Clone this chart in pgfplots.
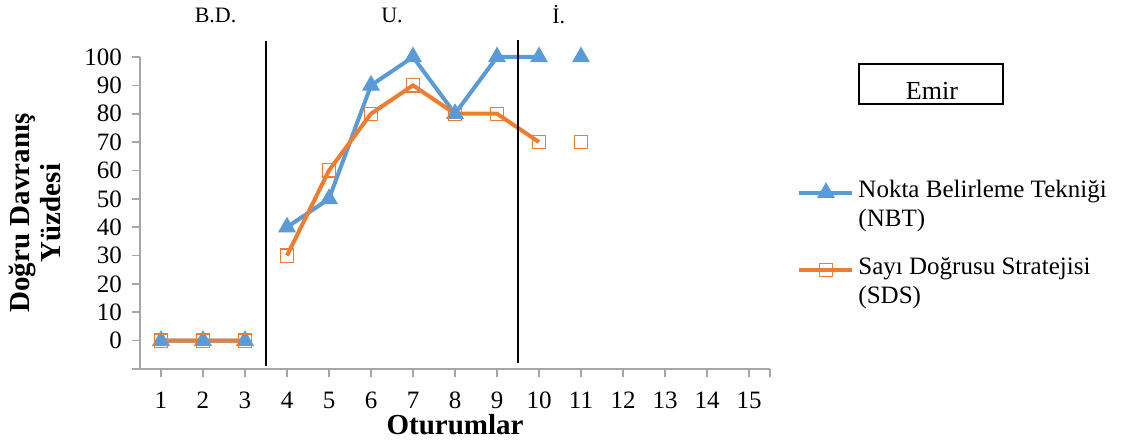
\documentclass[border=0pt]{standalone}
\usepackage{fontspec}
\setmainfont{Liberation Serif}
\usepackage{pgfplots}
\pgfplotsset{compat=1.18}
\definecolor{cblue}{HTML}{5B9BD5}
\definecolor{corange}{HTML}{ED7D31}
\definecolor{axgray}{HTML}{A6A6A6}
\begin{document}
\begin{tikzpicture}
\useasboundingbox (-70pt,-37.5pt) rectangle (493.5pt,184.5pt);
\begin{axis}[
  scale only axis, width=315pt, height=156pt,
  xmin=0.5, xmax=15.5, ymin=-10, ymax=100,
  axis x line=bottom, axis y line=left,
  axis line style={-, axgray, line width=0.8pt},
  xtick={1,...,15}, ytick={-10,0,10,...,100},
  yticklabels={{},0,10,20,30,40,50,60,70,80,90,100},
  extra x ticks={15.5}, extra x tick labels={},
  tick style={axgray, line width=0.8pt},
  tick align=outside, major tick length=4pt,
  /pgf/number format/assume math mode=true,
  tick label style={font=\fontsize{12.5}{15}\selectfont},
  xticklabel style={font=\fontsize{12.5}{15}\selectfont, anchor=center, yshift=-11.75pt},
  yticklabel style={font=\fontsize{12.5}{15}\selectfont, anchor=east, xshift=-1.5pt},
  xlabel={Oturumlar},
  xlabel style={at={(axis description cs:0.5,-0.1795)}, anchor=center, font=\bfseries\fontsize{14.5}{16}\selectfont},
  ylabel={Doğru Davranış\\Yüzdesi},
  ylabel style={at={(axis description cs:-0.1667,0.5)}, anchor=center, align=center, font=\bfseries\fontsize{14.5}{15.5}\selectfont},
  clip=false,
  unbounded coords=jump,
  legend style={at={(axis description cs:1.043,0.62)}, anchor=north west, draw=none, fill=none,
    font=\fontsize{12.5}{14.5}\selectfont, cells={align=left, anchor=west}, row sep=10pt, inner sep=0pt,
    /tikz/every even column/.style={column sep=2pt}},
  legend image code/.code={\draw[mark repeat=2, mark phase=2] plot coordinates {(0pt,6pt)(13.25pt,6pt)(26.5pt,6pt)};},
]
\addplot[cblue, line width=2pt, mark=triangle*, mark size=4.7pt, mark options={solid, fill=cblue, draw=cblue, line width=0.5pt}]
  coordinates {(1,0)(2,0)(3,0)(3.5,nan)(4,40)(5,50)(6,90)(7,100)(8,80)(9,100)(10,100)(10.5,nan)(11,100)};
\addlegendentry{Nokta Belirleme Tekniği\\(NBT)}
\addplot[corange, line width=2pt, mark=square, mark size=3.3pt, mark options={solid, draw=corange, fill=none, line width=0.6pt}]
  coordinates {(1,0)(2,0)(3,0)(3.5,nan)(4,30)(5,60)(6,80)(7,90)(8,80)(9,80)(10,70)(10.5,nan)(11,70)};
\addlegendentry{Sayı Doğrusu Stratejisi\\(SDS)}
\addplot[black, line width=0.7pt, forget plot] coordinates {(3.5,105.5)(3.5,-9)};
\addplot[black, line width=0.7pt, forget plot] coordinates {(9.5,106)(9.5,-7.9)};
\node[font=\fontsize{11}{12}\selectfont] at (axis cs:2.3,114.8) {B.D.};
\node[font=\fontsize{11}{12}\selectfont] at (axis cs:6.5,114.8) {U.};
\node[font=\fontsize{11}{12}\selectfont] at (axis cs:10.47,114.8) {İ.};
\node[draw, line width=1pt, minimum width=72pt, minimum height=20pt, inner sep=0pt] at (rel axis cs:1.2556,0.9135) {};
\node[font=\fontsize{13}{14}\selectfont] at (rel axis cs:1.2571,0.891) {Emir};
\end{axis}
\end{tikzpicture}
\end{document}
